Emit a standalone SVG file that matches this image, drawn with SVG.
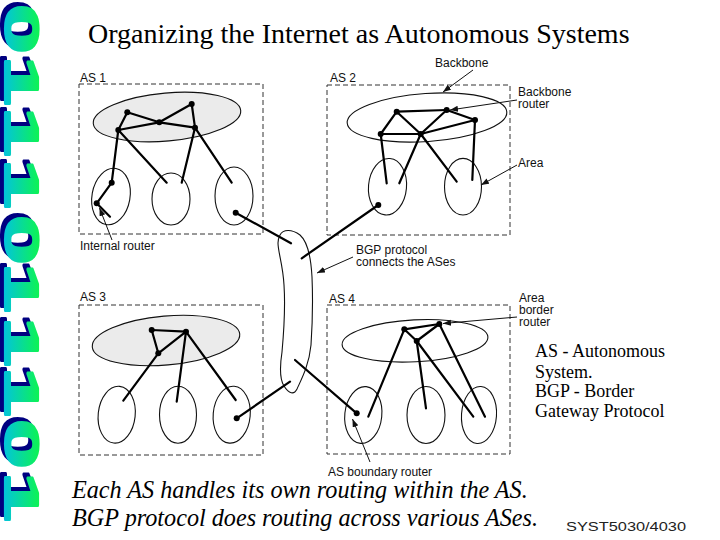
<svg xmlns="http://www.w3.org/2000/svg" width="720" height="540" viewBox="0 0 720 540">
<defs>
<linearGradient id="deco" x1="0" y1="1" x2="0" y2="0">
<stop offset="0" stop-color="#00b8ff"/>
<stop offset="1" stop-color="#10ff30"/>
</linearGradient>
<marker id="ah" markerUnits="userSpaceOnUse" markerWidth="9" markerHeight="7" refX="8" refY="3" orient="auto">
<path d="M0,0 L8,3 L0,6 z" fill="#111"/>
</marker>
<style>
.box{fill:none;stroke:#333;stroke-width:1;stroke-dasharray:5 3}
.bb{stroke:#111;stroke-width:1.1}
.gray{fill:#ebebeb}
.white{fill:#fff}
.area{fill:none;stroke:#111;stroke-width:1.1}
.e{stroke:#000;stroke-width:2.2;stroke-linecap:round}
.ld{stroke:#111;stroke-width:1;marker-end:url(#ah)}
.r{fill:#000}
.lab{font-family:"Liberation Sans",Arial,sans-serif;font-size:12px;fill:#111}
.ser{font-family:"Liberation Serif","Times New Roman",serif;fill:#000}
.deco{font-family:"Liberation Sans",Arial,sans-serif;font-weight:bold;font-size:88px;text-anchor:middle;stroke-width:4;stroke-linejoin:round}
</style>
</defs>
<rect width="720" height="540" fill="#fff"/>

<g id="decoration">
<text class="deco" fill="#000080" stroke="#000080" transform="translate(1,-4) rotate(90) scale(1,0.54)" x="29 81 132 184 240 288 342 392 444 497" y="0">0111011101</text>
<text class="deco" fill="url(#deco)" stroke="url(#deco)" transform="translate(5,0) rotate(90) scale(1,0.54)" x="29 81 132 184 240 288 342 392 444 497" y="0">0111011101</text>
</g>

<text id="title" class="ser" x="88" y="43" font-size="28">Organizing the Internet as Autonomous Systems</text>

<g id="as1">
<rect class="box" x="79" y="84" width="184" height="150"/>
<text class="lab" x="80" y="82">AS 1</text>
<ellipse class="bb gray" cx="167" cy="117" rx="74" ry="24" transform="rotate(-5 167 117)"/>
<ellipse class="area" cx="111" cy="196.5" rx="19" ry="28.5" transform="rotate(10 111 196.5)"/>
<ellipse class="area" cx="171" cy="199" rx="19" ry="26"/>
<ellipse class="area" cx="234" cy="196" rx="19" ry="29"/>
</g>

<g id="as2">
<rect class="box" x="327" y="85" width="183" height="150"/>
<text class="lab" x="330" y="82">AS 2</text>
<ellipse class="bb white" cx="427" cy="117.5" rx="80" ry="24" transform="rotate(-4 427 117.5)"/>
<ellipse class="area" cx="387.5" cy="186.7" rx="19" ry="28.3" transform="rotate(5 387.5 186.7)"/>
<ellipse class="area" cx="463" cy="186.7" rx="18.5" ry="28.3"/>
</g>

<g id="as3">
<rect class="box" x="79" y="305" width="184" height="150"/>
<text class="lab" x="80" y="301">AS 3</text>
<ellipse class="bb gray" cx="166" cy="340.5" rx="74" ry="24.5" transform="rotate(-5 166 340.5)"/>
<ellipse class="area" cx="116.7" cy="414.7" rx="18.5" ry="28.5" transform="rotate(6 116.7 414.7)"/>
<ellipse class="area" cx="178" cy="414.7" rx="18.5" ry="28.5"/>
<ellipse class="area" cx="231.7" cy="414.7" rx="18.5" ry="28.5" transform="rotate(5 231.7 414.7)"/>
</g>

<g id="as4">
<rect class="box" x="327" y="305" width="183" height="149"/>
<text class="lab" x="329" y="303">AS 4</text>
<ellipse class="bb white" cx="415" cy="340.8" rx="73" ry="21" transform="rotate(-3 415 340.8)"/>
<ellipse class="area" cx="363.3" cy="415" rx="18.5" ry="28.5" transform="rotate(6 363.3 415)"/>
<ellipse class="area" cx="426" cy="415" rx="19" ry="28.5"/>
<ellipse class="area" cx="479" cy="415" rx="17.5" ry="28.5" transform="rotate(4 479 415)"/>
</g>

<g id="bgp-link">
<path class="area" d="M280,235 C283,229 292,229 300,235 C308,242 311,258 312,277 C313,300 312,330 311,345 C309,365 302,378 297,389 C294,395 289,394 284,386 C279,378 280,365 282,352 C284,330 285,300 284,285 C283,265 278,252 278,243 C278,239 279,237 280,235 Z"/>
</g>

<g id="connectors">
<!-- AS1 -->
<line class="e" x1="127.3" y1="112.3" x2="118.3" y2="130"/>
<line class="e" x1="127.3" y1="112.3" x2="159.3" y2="122.3"/>
<line class="e" x1="159.3" y1="122.3" x2="191.7" y2="104"/>
<line class="e" x1="191.7" y1="104" x2="195" y2="127.7"/>
<line class="e" x1="118.3" y1="130" x2="159.3" y2="122.3"/>
<line class="e" x1="159.3" y1="122.3" x2="195" y2="127.7"/>
<line class="e" x1="118.3" y1="130" x2="111.7" y2="182.7"/>
<line class="e" x1="118.3" y1="130" x2="166.7" y2="182.7"/>
<line class="e" x1="195" y1="127.7" x2="181.7" y2="182.7"/>
<line class="e" x1="195" y1="127.7" x2="231.7" y2="182.7"/>
<line class="e" x1="111.7" y1="182.7" x2="96.7" y2="203.3"/>
<line class="e" x1="96.7" y1="203.3" x2="110" y2="216.7"/>
<line class="e" x1="235.7" y1="212.7" x2="291" y2="243.3"/>
<!-- AS2 -->
<line class="e" x1="396.7" y1="111.7" x2="446.7" y2="110"/>
<line class="e" x1="396.7" y1="111.7" x2="380.7" y2="134"/>
<line class="e" x1="396.7" y1="111.7" x2="420.7" y2="134"/>
<line class="e" x1="380.7" y1="134" x2="420.7" y2="134"/>
<line class="e" x1="420.7" y1="134" x2="446.7" y2="110"/>
<line class="e" x1="420.7" y1="134" x2="475" y2="120"/>
<line class="e" x1="446.7" y1="110" x2="475" y2="120"/>
<line class="e" x1="380.7" y1="134" x2="386.7" y2="183.3"/>
<line class="e" x1="420.7" y1="134" x2="399.3" y2="183.3"/>
<line class="e" x1="420.7" y1="134" x2="456.7" y2="181.7"/>
<line class="e" x1="475" y1="120" x2="472.3" y2="180"/>
<line class="e" x1="378.3" y1="205" x2="301.7" y2="258.3"/>
<!-- AS3 -->
<line class="e" x1="151.7" y1="330" x2="186" y2="331.7"/>
<line class="e" x1="151.7" y1="330" x2="158.3" y2="353.3"/>
<line class="e" x1="158.3" y1="353.3" x2="186" y2="331.7"/>
<line class="e" x1="186" y1="331.7" x2="176.7" y2="401.7"/>
<line class="e" x1="186" y1="331.7" x2="235.7" y2="400"/>
<line class="e" x1="158.3" y1="353.3" x2="123.3" y2="400.7"/>
<line class="e" x1="236.7" y1="418.3" x2="290" y2="381.7"/>
<!-- AS4 -->
<line class="e" x1="404.3" y1="329.3" x2="439.3" y2="324"/>
<line class="e" x1="404.3" y1="329.3" x2="416.7" y2="341"/>
<line class="e" x1="416.7" y1="341" x2="439.3" y2="324"/>
<line class="e" x1="404.3" y1="329.3" x2="368.3" y2="416.7"/>
<line class="e" x1="416.7" y1="341" x2="426" y2="408.3"/>
<line class="e" x1="416.7" y1="341" x2="473.3" y2="416.7"/>
<line class="e" x1="439.3" y1="324" x2="485" y2="416.7"/>
<line class="e" x1="295" y1="360" x2="356.7" y2="413.3"/>
<!-- leaders -->
<line class="ld" x1="112" y1="240" x2="99.5" y2="208"/>
<line class="ld" x1="473" y1="70" x2="443" y2="92"/>
<line class="ld" x1="517" y1="100" x2="450" y2="110"/>
<line class="ld" x1="517" y1="165" x2="481" y2="185"/>
<line class="ld" x1="353" y1="257" x2="317" y2="273"/>
<line class="ld" x1="517" y1="317" x2="443" y2="323.5"/>
<line class="ld" x1="370" y1="462" x2="352.5" y2="419"/>
</g>

<g id="routers">
<circle class="r" cx="127.3" cy="112.3" r="3"/>
<circle class="r" cx="191.7" cy="104" r="3"/>
<circle class="r" cx="159.3" cy="122.3" r="3"/>
<circle class="r" cx="118.3" cy="130" r="3"/>
<circle class="r" cx="195" cy="127.7" r="3"/>
<circle class="r" cx="111.7" cy="182.7" r="3"/>
<circle class="r" cx="96.7" cy="203.3" r="3"/>
<circle class="r" cx="235.7" cy="212.7" r="3"/>
<circle class="r" cx="396.7" cy="111.7" r="3"/>
<circle class="r" cx="446.7" cy="110" r="3"/>
<circle class="r" cx="475" cy="120" r="3"/>
<circle class="r" cx="380.7" cy="134" r="3"/>
<circle class="r" cx="420.7" cy="134" r="3"/>
<circle class="r" cx="378.3" cy="205" r="3"/>
<circle class="r" cx="151.7" cy="330" r="3"/>
<circle class="r" cx="186" cy="331.7" r="3"/>
<circle class="r" cx="158.3" cy="353.3" r="3"/>
<circle class="r" cx="236.7" cy="418.3" r="3"/>
<circle class="r" cx="404.3" cy="329.3" r="3"/>
<circle class="r" cx="439.3" cy="324" r="3"/>
<circle class="r" cx="416.7" cy="341" r="3"/>
<circle class="r" cx="356.7" cy="413.3" r="3"/>
</g>

<g id="labels">
<text class="lab" x="435" y="67">Backbone</text>
<text class="lab" x="518" y="96">Backbone</text>
<text class="lab" x="518" y="108">router</text>
<text class="lab" x="518" y="167">Area</text>
<text class="lab" x="80" y="250">Internal router</text>
<text class="lab" x="356" y="254">BGP protocol</text>
<text class="lab" x="356" y="266">connects the ASes</text>
<text class="lab" x="519" y="302">Area</text>
<text class="lab" x="519" y="314">border</text>
<text class="lab" x="519" y="326">router</text>
<text class="lab" x="328" y="476">AS boundary router</text>
</g>

<g id="legend" class="ser" font-size="18">
<text x="535" y="357">AS - Autonomous</text>
<text x="535" y="378">System.</text>
<text x="535" y="397">BGP - Border</text>
<text x="535" y="417">Gateway Protocol</text>
</g>

<g id="footer" class="ser" font-style="italic" font-size="24.2">
<text x="72" y="498">Each AS handles its own routing within the AS.</text>
<text x="72" y="526">BGP protocol does routing across various ASes.</text>
</g>
<text id="course" x="566" y="531" font-family="'Liberation Sans',Arial,sans-serif" font-size="13" textLength="120" lengthAdjust="spacingAndGlyphs" fill="#222">SYST5030/4030</text>
</svg>
